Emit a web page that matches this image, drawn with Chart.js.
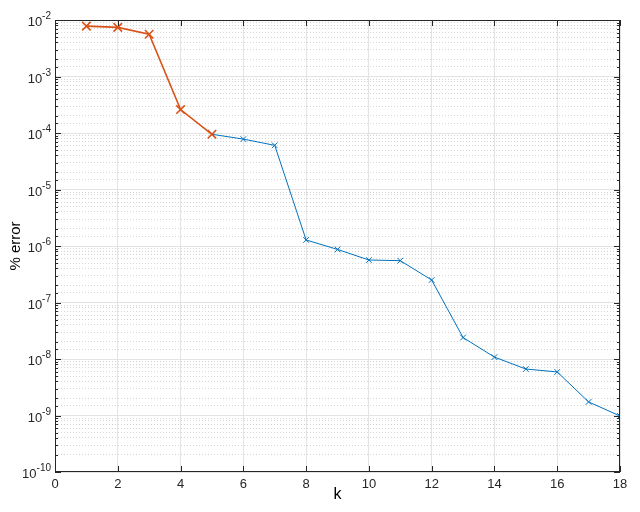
<!DOCTYPE html>
<html>
<head>
<meta charset="utf-8">
<script src="https://cdn.jsdelivr.net/npm/chart.js@4.4.1/dist/chart.umd.min.js"></script>
<style>
  html, body { margin: 0; padding: 0; background: #fff; }
  #wrap { width: 640px; height: 512px; }
</style>
</head>
<body>
<div id="wrap"><canvas id="errChart"></canvas></div>
<script>
// % error against k
const redK = [1, 2, 3, 4, 5];
const redErr = [7.8e-3, 7.4e-3, 5.6e-3, 2.6e-4, 9.5e-5];
const blueK = [5, 6, 7, 8, 9, 10, 11, 12, 13, 14, 15, 16, 17, 18];
const blueErr = [9.5e-5, 7.8e-5, 6.05e-5, 1.28e-6, 8.7e-7, 5.65e-7, 5.5e-7,
                 2.5e-7, 2.4e-8, 1.08e-8, 6.65e-9, 5.9e-9, 1.74e-9, 9.8e-10];
const kTicks = [0, 2, 4, 6, 8, 10, 12, 14, 16, 18];

const isDecade = v => Math.abs(Math.log10(v) - Math.round(Math.log10(v))) < 1e-6;
const toPts = (xs, ys) => xs.map((k, i) => ({ x: k, y: ys[i] }));

// axes box, inner tick marks and 10^n labels, matlab style
const frame = {
  id: 'frame',
  afterDraw(chart) {
    const { ctx, chartArea: a, scales: { x, y } } = chart;
    ctx.save();
    ctx.strokeStyle = '#262626';
    ctx.lineWidth = 1;
    ctx.strokeRect(a.left + 0.5, a.top + 0.5, a.right - a.left - 1, a.bottom - a.top - 1);
    ctx.beginPath();
    y.ticks.forEach((t, i) => {
      const py = Math.round(y.getPixelForTick(i)) + 0.5;
      const len = isDecade(t.value) ? 6 : 3;
      ctx.moveTo(a.left, py); ctx.lineTo(a.left + len, py);
      ctx.moveTo(a.right, py); ctx.lineTo(a.right - len, py);
    });
    x.ticks.forEach((t, i) => {
      const px = Math.round(x.getPixelForTick(i)) + 0.5;
      ctx.moveTo(px, a.bottom); ctx.lineTo(px, a.bottom - 6);
      ctx.moveTo(px, a.top); ctx.lineTo(px, a.top + 6);
    });
    ctx.stroke();

    // y labels: "10" plus a small raised exponent
    ctx.fillStyle = '#262626';
    ctx.textAlign = 'left';
    ctx.textBaseline = 'alphabetic';
    y.ticks.forEach((t, i) => {
      if (!isDecade(t.value)) return;
      const py = y.getPixelForTick(i);
      const e = String(Math.round(Math.log10(t.value)));
      ctx.font = '10px "Liberation Sans"';
      const ew = ctx.measureText(e).width;
      ctx.font = '13px "Liberation Sans"';
      const bw = ctx.measureText('10').width;
      const right = a.left - 4;
      ctx.fillText('10', right - ew - bw, py + 6);
      ctx.font = '10px "Liberation Sans"';
      ctx.fillText(e, right - ew, py - 1);
    });
    ctx.restore();
  }
};

const config = {
  type: 'line',
  data: {
    datasets: [
      {
        data: toPts(redK, redErr),
        borderColor: '#D95319',
        backgroundColor: '#D95319',
        borderWidth: 1.6,
        pointStyle: 'crossRot',
        pointRadius: 6,
        pointBorderWidth: 1.6,
        tension: 0
      },
      {
        data: toPts(blueK, blueErr),
        borderColor: '#0072BD',
        backgroundColor: '#0072BD',
        borderWidth: 1,
        pointStyle: 'crossRot',
        pointRadius: 4,
        pointBorderWidth: 1,
        tension: 0
      }
    ]
  },
  options: {
    responsive: true,
    maintainAspectRatio: false,
    animation: false,
    layout: { padding: { top: 20, right: 20, left: 0, bottom: 0 } },
    plugins: { legend: { display: false }, tooltip: { enabled: false } },
    scales: {
      x: {
        type: 'linear',
        min: 0,
        max: 18,
        afterBuildTicks: s => { s.ticks = kTicks.map(v => ({ value: v })); },
        afterFit: s => { s.height = 40; },
        grid: { color: '#e3e3e3', drawTicks: false },
        border: { display: false },
        ticks: {
          padding: 5,
          color: '#262626',
          font: { family: 'Liberation Sans', size: 13 }
        },
        title: {
          display: true,
          text: 'k',
          color: '#000',
          padding: { top: 0, bottom: 8 },
          font: { family: 'Liberation Sans', size: 16 }
        }
      },
      y: {
        type: 'logarithmic',
        min: 1e-10,
        max: 1e-2,
        afterFit: s => { s.width = 55; },
        grid: {
          drawTicks: false,
          color: c => (c.tick && !isDecade(c.tick.value)) ? '#d4d4d4' : '#e3e3e3'
        },
        border: {
          display: false,
          dash: c => (c.tick && !isDecade(c.tick.value)) ? [1, 2] : []
        },
        ticks: {
          autoSkip: false,
          padding: 4,
          // labels are drawn by the frame plugin
          callback: () => ''
        },
        title: {
          display: true,
          text: '% error',
          color: '#000',
          padding: { top: 7, bottom: 0 },
          font: { family: 'Liberation Sans', size: 15 }
        }
      }
    }
  },
  plugins: [frame]
};

window.onload = () => {
  const ctx = document.getElementById('errChart').getContext('2d');
  new Chart(ctx, config);
};
</script>
</body>
</html>
